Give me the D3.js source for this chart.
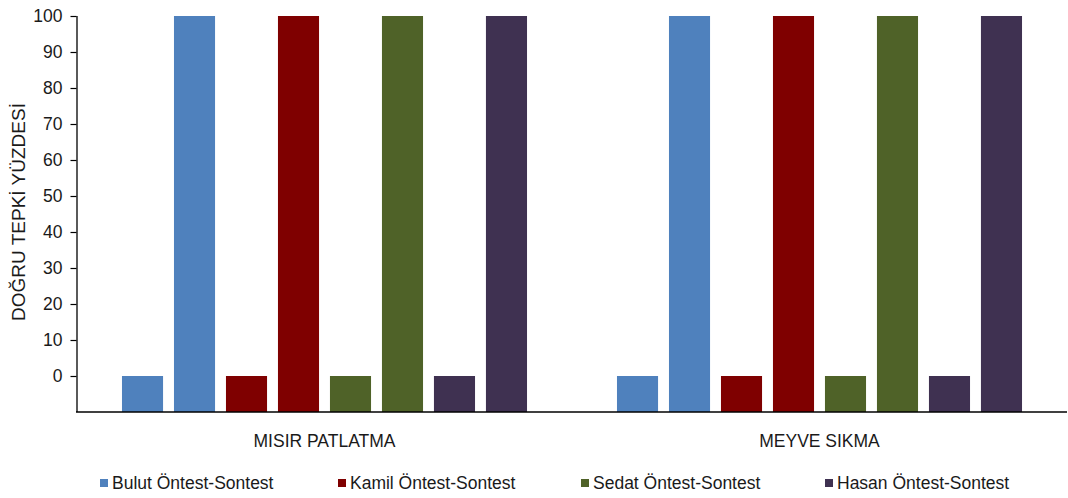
<!DOCTYPE html>
<html>
<head>
<meta charset="utf-8">
<script src="https://cdn.jsdelivr.net/npm/d3@7"></script>
<style>
  html, body { margin: 0; padding: 0; background: #fff; }
  svg { display: block; font-family: "Liberation Sans", Arial, sans-serif; }
</style>
</head>
<body>
<svg id="chart" width="1068" height="498"></svg>
<script>
// Activities on the x axis
const categories = ["MISIR PATLATMA", "MEYVE SIKMA"];
// Children, one legend entry each
const students = ["Bulut", "Kamil", "Sedat", "Hasan"];
const seriesLabels = ["Bulut Öntest-Sontest", "Kamil Öntest-Sontest", "Sedat Öntest-Sontest", "Hasan Öntest-Sontest"];
const colors = ["#4F81BD", "#7F0000", "#4F6228", "#3F3151"];
// Percentage of correct responses per activity, in student order
const pretest = [
  [0, 0, 0, 0],   // MISIR PATLATMA
  [0, 0, 0, 0]    // MEYVE SIKMA
];
const posttest = [
  [100, 100, 100, 100],
  [100, 100, 100, 100]
];
const yTicks = [0, 10, 20, 30, 40, 50, 60, 70, 80, 90, 100];

const svg = d3.select("#chart");
const plot = { left: 77, right: 1067, top: 16, bottom: 412 };
const textColor = "#1a1a1a";

const y = d3.scaleLinear().domain([-10, 100]).range([plot.bottom, plot.top]);
const x0 = d3.scaleBand().domain(categories).range([plot.left, plot.right]).padding(0);

// Two bars per student: pretest then posttest
const barKeys = [];
students.forEach(s => { barKeys.push(s + "|pre"); barKeys.push(s + "|post"); });
const x1 = d3.scaleBand().domain(barKeys).range([0, x0.bandwidth()])
  .paddingInner(0.21).paddingOuter(0.865);

const rows = [];
categories.forEach((c, ci) => {
  students.forEach((s, si) => {
    rows.push({ cat: c, key: s + "|pre", value: pretest[ci][si], color: colors[si] });
    rows.push({ cat: c, key: s + "|post", value: posttest[ci][si], color: colors[si] });
  });
});

svg.append("g").selectAll("rect").data(rows).join("rect")
  .attr("x", d => x0(d.cat) + x1(d.key))
  .attr("width", x1.bandwidth())
  .attr("y", d => y(d.value))
  .attr("height", d => y(-10) - y(d.value))
  .attr("fill", d => d.color);

// Y axis
const yAxis = svg.append("g")
  .attr("transform", `translate(${plot.left - 0.5},0)`)
  .call(d3.axisLeft(y).tickValues(yTicks).tickSize(6).tickPadding(8).tickSizeOuter(0));
yAxis.select(".domain").attr("stroke", "#000").attr("stroke-width", 1.3)
  .attr("d", `M0.5,${plot.top}V${plot.bottom}`);
yAxis.selectAll(".tick line").attr("stroke", "#000").attr("stroke-width", 1.2);
yAxis.selectAll(".tick text").attr("font-size", 17.5).attr("fill", textColor)
  .attr("font-family", "'Liberation Sans', Arial, sans-serif");

// X axis
const xAxis = svg.append("g")
  .attr("transform", `translate(0,${plot.bottom})`)
  .call(d3.axisBottom(x0).tickSize(0).tickPadding(22));
xAxis.select(".domain").attr("stroke", "#000").attr("stroke-width", 1.5)
  .attr("d", `M${plot.left - 1},0H${plot.right}`);
xAxis.selectAll(".tick text").attr("font-size", 17.5).attr("fill", textColor)
  .attr("font-family", "'Liberation Sans', Arial, sans-serif")
  .attr("dy", "0.35em").attr("y", 29);

// Y axis title
svg.append("text")
  .attr("transform", "translate(25,212) rotate(-90)")
  .attr("text-anchor", "middle")
  .attr("font-size", 19)
  .attr("fill", textColor)
  .text("DOĞRU TEPKİ YÜZDESİ");

// Legend
const legendX = [100, 338, 581, 825];
const legend = svg.append("g").selectAll("g").data(seriesLabels).join("g")
  .attr("transform", (d, i) => `translate(${legendX[i]},483)`);
legend.append("rect").attr("x", 0).attr("y", -4).attr("width", 8).attr("height", 8)
  .attr("fill", (d, i) => colors[i]);
legend.append("text").attr("x", 12).attr("dy", "0.35em")
  .attr("font-size", 17.5).attr("fill", textColor).text(d => d);
</script>
</body>
</html>
